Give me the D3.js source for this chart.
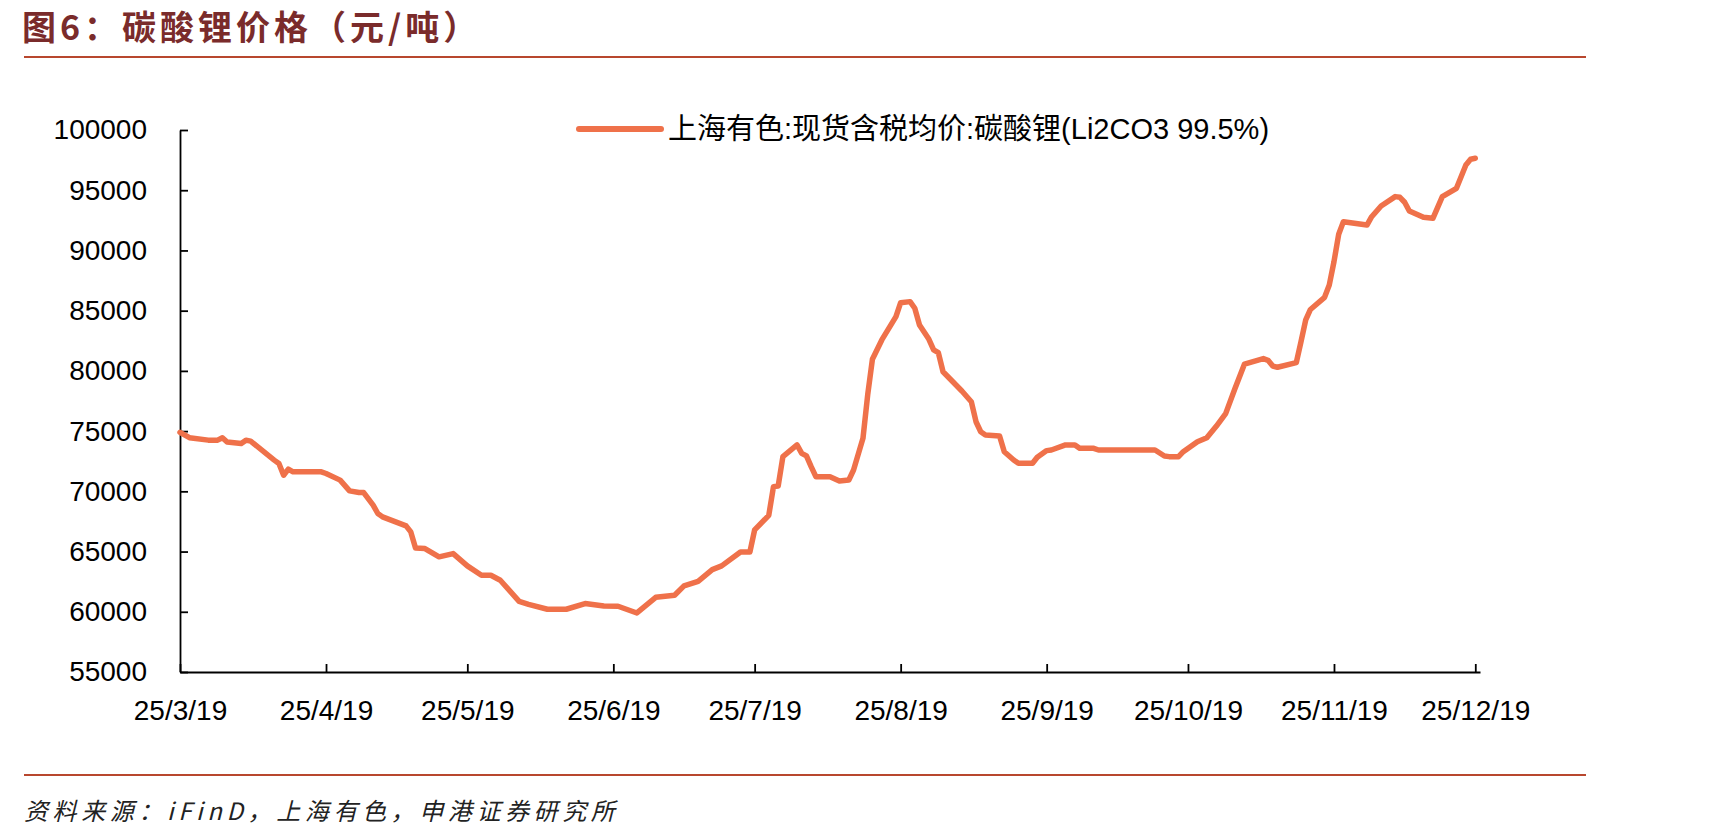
<!DOCTYPE html>
<html>
<head>
<meta charset="utf-8">
<script src="https://cdn.jsdelivr.net/npm/d3@7"></script>
<style>
  body { margin: 0; background: #fff; }
  svg { display: block; }
  .naslov { font-family: "Noto Sans CJK SC", sans-serif; font-weight: 700; font-size: 34px; fill: #7a2b2b; letter-spacing: 4px; }
  .izvor { font-family: "Noto Sans CJK SC", sans-serif; font-style: italic; font-size: 24px; fill: #222; letter-spacing: 4.6px; }
  .os text { font-family: "Liberation Sans", Arial, sans-serif; font-size: 28px; fill: #000; }
  .os path, .os line { stroke: #000; stroke-width: 1.8; }
  .legenda-tekst { font-family: "Liberation Sans", Arial, "Noto Sans CJK SC", sans-serif; font-size: 29px; fill: #000; }
</style>
</head>
<body>
<div id="graf"></div>
<script>
const naslov = "图6：碳酸锂价格（元/吨）";
const izvor = "资料来源：iFinD，上海有色，申港证券研究所";
const nazivSerije = "上海有色:现货含税均价:碳酸锂(Li2CO3 99.5%)";

const datumi = [
  "2025-03-19", "2025-03-21", "2025-03-25", "2025-03-27", "2025-03-28", "2025-03-29",
  "2025-04-01", "2025-04-02", "2025-04-03", "2025-04-08", "2025-04-09", "2025-04-10",
  "2025-04-11", "2025-04-12", "2025-04-18", "2025-04-19", "2025-04-22", "2025-04-24",
  "2025-04-26", "2025-04-27", "2025-04-29", "2025-04-30", "2025-05-01", "2025-05-06",
  "2025-05-07", "2025-05-08", "2025-05-10", "2025-05-13", "2025-05-16", "2025-05-19",
  "2025-05-22", "2025-05-24", "2025-05-26", "2025-05-30", "2025-06-01", "2025-06-05",
  "2025-06-09", "2025-06-13", "2025-06-17", "2025-06-20", "2025-06-24", "2025-06-28",
  "2025-07-02", "2025-07-04", "2025-07-07", "2025-07-10", "2025-07-12", "2025-07-16",
  "2025-07-18", "2025-07-19", "2025-07-22", "2025-07-23", "2025-07-24", "2025-07-25",
  "2025-07-28", "2025-07-29", "2025-07-30", "2025-07-31", "2025-08-01", "2025-08-04",
  "2025-08-06", "2025-08-08", "2025-08-09", "2025-08-11", "2025-08-12", "2025-08-13",
  "2025-08-15", "2025-08-18", "2025-08-19", "2025-08-21", "2025-08-22", "2025-08-23",
  "2025-08-25", "2025-08-26", "2025-08-27", "2025-08-28", "2025-09-01", "2025-09-03",
  "2025-09-04", "2025-09-05", "2025-09-06", "2025-09-09", "2025-09-10", "2025-09-12",
  "2025-09-13", "2025-09-16", "2025-09-17", "2025-09-19", "2025-09-20", "2025-09-23",
  "2025-09-25", "2025-09-26", "2025-09-29", "2025-09-30", "2025-10-12", "2025-10-14",
  "2025-10-15", "2025-10-17", "2025-10-18", "2025-10-21", "2025-10-23", "2025-10-25",
  "2025-10-27", "2025-10-29", "2025-10-31", "2025-11-04", "2025-11-05", "2025-11-06",
  "2025-11-07", "2025-11-11", "2025-11-12", "2025-11-13", "2025-11-14", "2025-11-17",
  "2025-11-18", "2025-11-19", "2025-11-20", "2025-11-21", "2025-11-26", "2025-11-27",
  "2025-11-29", "2025-12-02", "2025-12-03", "2025-12-04", "2025-12-05", "2025-12-08",
  "2025-12-10", "2025-12-12", "2025-12-15", "2025-12-17", "2025-12-18", "2025-12-19"
];

const cijene = [
  74900, 74450, 74250, 74250, 74450, 74100,
  73970, 74250, 74170, 72590, 72310, 71340,
  71840, 71620, 71620, 71480, 70930, 70040,
  69900, 69900, 68850, 68160, 67880, 67130,
  66630, 65300, 65250, 64560, 64830, 63810,
  63030, 63030, 62620, 60870, 60620, 60210,
  60210, 60680, 60480, 60460, 59900, 61200,
  61370, 62150, 62530, 63500, 63810, 64970,
  64970, 66800, 68000, 70390, 70440, 72880,
  73850, 73160, 72940, 72050, 71220, 71220,
  70860, 70940, 71770, 74400, 78000, 80960,
  82570, 84500, 85660, 85750, 85200, 83810,
  82620, 81740, 81510, 79930, 78330, 77440,
  75780, 74950, 74680, 74600, 73290, 72600,
  72330, 72330, 72830, 73380, 73430, 73850,
  73850, 73570, 73570, 73430, 73430, 72930,
  72880, 72880, 73290, 74120, 74450, 75400,
  76450, 78560, 80570, 81020, 80880, 80400,
  80300, 80680, 82430, 84230, 85100, 86110,
  87130, 89070, 91340, 92390, 92110, 92800,
  93690, 94470, 94410, 94000, 93280, 92750,
  92670, 94470, 95160, 97100, 97570, 97650
];

const xTickDatumi = [
  "2025-03-19", "2025-04-19", "2025-05-19", "2025-06-19", "2025-07-19",
  "2025-08-19", "2025-09-19", "2025-10-19", "2025-11-19", "2025-12-19"
];
const xTickOznake = [
  "25/3/19", "25/4/19", "25/5/19", "25/6/19", "25/7/19",
  "25/8/19", "25/9/19", "25/10/19", "25/11/19", "25/12/19"
];
const xDomena = ["2025-03-19", "2025-12-20"];
const yTickovi = [55000, 60000, 65000, 70000, 75000, 80000, 85000, 90000, 95000, 100000];

function crtajGraf() {
  const parsiraj = d3.utcParse("%Y-%m-%d");
  const podaci = datumi.map((d, i) => ({ datum: parsiraj(d), cijena: cijene[i] }));

  //Postavljanje dimenzija
  let dimenzije = {
    sirina: 1712,
    visina: 839,
    margine: { top: 130, right: 232, bottom: 167, left: 180 },
  };
  dimenzije.grSirina = dimenzije.sirina - dimenzije.margine.left - dimenzije.margine.right;
  dimenzije.grVisina = dimenzije.visina - dimenzije.margine.top - dimenzije.margine.bottom;

  const okvir = d3.select("#graf")
    .append("svg")
    .attr("width", dimenzije.sirina)
    .attr("height", dimenzije.visina);

  //Naslov, crte i izvor
  okvir.append("text")
    .attr("class", "naslov")
    .attr("x", 22)
    .attr("y", 40)
    .text(naslov);

  okvir.append("line")
    .attr("x1", 24).attr("x2", 1586)
    .attr("y1", 57).attr("y2", 57)
    .attr("stroke", "#b8472e")
    .attr("stroke-width", 2);

  okvir.append("line")
    .attr("x1", 24).attr("x2", 1586)
    .attr("y1", 775).attr("y2", 775)
    .attr("stroke", "#b8472e")
    .attr("stroke-width", 2);

  okvir.append("text")
    .attr("class", "izvor")
    .attr("x", 24)
    .attr("y", 820)
    .text(izvor);

  const granice = okvir.append("g")
    .attr("transform", `translate(${dimenzije.margine.left},${dimenzije.margine.top})`);

  //Skale
  const xSkala = d3.scaleUtc()
    .domain(xDomena.map(parsiraj))
    .range([0, dimenzije.grSirina]);

  const ySkala = d3.scaleLinear()
    .domain([55000, 100000])
    .range([dimenzije.grVisina, 0]);

  //Osi
  const xOs = d3.axisBottom(xSkala)
    .tickValues(xTickDatumi.map(parsiraj))
    .tickFormat((d, i) => xTickOznake[i])
    .tickSizeInner(-8)
    .tickSizeOuter(0)
    .tickPadding(28);

  const yOs = d3.axisLeft(ySkala)
    .tickValues(yTickovi)
    .tickFormat(d3.format("d"))
    .tickSizeInner(-8)
    .tickSizeOuter(0)
    .tickPadding(33);

  granice.append("g")
    .attr("class", "os")
    .attr("transform", `translate(0,${dimenzije.grVisina})`)
    .call(xOs);

  granice.append("g")
    .attr("class", "os")
    .call(yOs);

  //Linija cijene
  const linija = d3.line()
    .x(d => xSkala(d.datum))
    .y(d => ySkala(d.cijena));

  granice.append("path")
    .datum(podaci)
    .attr("fill", "none")
    .attr("stroke", "#ef714a")
    .attr("stroke-width", 5.5)
    .attr("stroke-linejoin", "round")
    .attr("stroke-linecap", "round")
    .attr("d", linija);

  //Legenda
  const legenda = okvir.append("g")
    .attr("transform", "translate(579,129)");

  legenda.append("line")
    .attr("x1", 0).attr("x2", 82)
    .attr("y1", 0).attr("y2", 0)
    .attr("stroke", "#ef714a")
    .attr("stroke-width", 6)
    .attr("stroke-linecap", "round");

  legenda.append("text")
    .attr("class", "legenda-tekst")
    .attr("x", 89)
    .attr("dy", "0.35em")
    .text(nazivSerije);
}

crtajGraf();
</script>
</body>
</html>
